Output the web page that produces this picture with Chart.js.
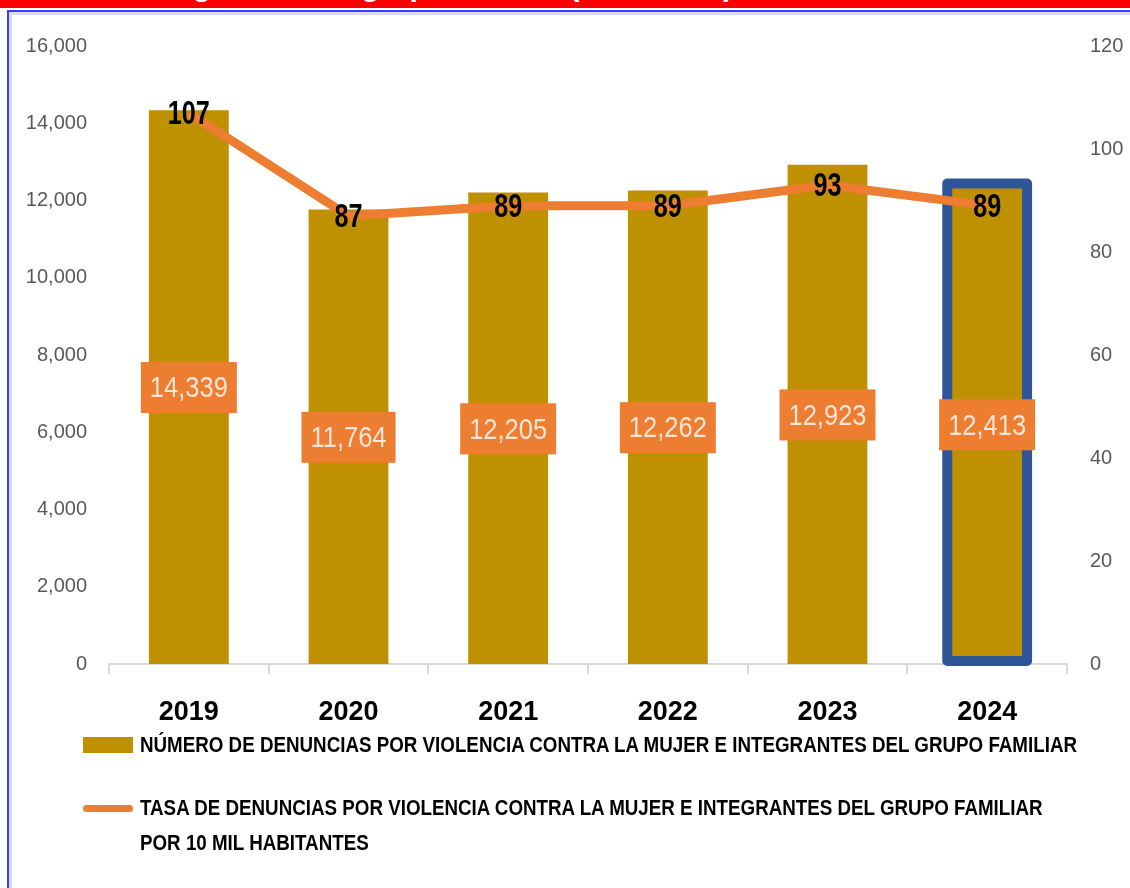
<!DOCTYPE html>
<html>
<head>
<meta charset="utf-8">
<script src="https://cdn.jsdelivr.net/npm/chart.js@4"></script>
<style>
  html, body { margin: 0; padding: 0; background: #fff; }
  #wrap { position: relative; width: 1130px; height: 888px; overflow: hidden; }
  #titulo { position: absolute; left: 0; top: 0; width: 1130px; height: 8px; background: #ff0000; overflow: hidden; }
  #titulo span { position: absolute; left: -25px; top: -29px; font: bold 30px "Liberation Sans", sans-serif; line-height: 1; color: #fff; white-space: nowrap; }
  #marco { position: absolute; left: 7px; top: 10px; width: 1130px; height: 900px; border-left: 2px solid #3c3cff; border-top: 2px solid #3c3cff; box-shadow: inset 3px 3px 0 #dcdce6; }
  canvas { position: absolute; left: 0; top: 0; }
  .ley { position: absolute; left: 140px; font: bold 22px "Liberation Sans", sans-serif; color: #000; white-space: nowrap; line-height: 1; transform-origin: 0 0; }
  .cuadro { position: absolute; left: 83px; top: 737px; width: 50px; height: 16px; background: #bf9000; }
  .raya { position: absolute; left: 83px; top: 805px; width: 50px; height: 7px; border-radius: 4px; background: #ed7d31; }
</style>
</head>
<body>
<div id="wrap">
  <div id="titulo"><span>Violencia a integrantes del grupo familiar (2019-2024)</span></div>
  <div id="marco"></div>
  <canvas id="grafico" width="1130" height="888"></canvas>
  <div class="cuadro"></div>
  <div class="ley" id="ley1" style="top:734px;">NÚMERO DE DENUNCIAS POR VIOLENCIA CONTRA LA MUJER E INTEGRANTES DEL GRUPO FAMILIAR</div>
  <div class="raya"></div>
  <div class="ley" style="top:797px;">TASA DE DENUNCIAS POR VIOLENCIA CONTRA LA MUJER E INTEGRANTES DEL GRUPO FAMILIAR</div>
  <div class="ley" style="top:832px;">POR 10 MIL HABITANTES</div>
</div>
<script>
// datos del grafico
const anios = ["2019", "2020", "2021", "2022", "2023", "2024"];
const denuncias = [14339, 11764, 12205, 12262, 12923, 12413]; // numero de denuncias
const tasa = [107, 87, 89, 89, 93, 89];                        // por 10 mil habitantes
const ejeIzq = { min: 0, max: 16000, paso: 2000 };
const ejeDer = { min: 0, max: 120, paso: 20 };
const anioResaltado = "2024";

const naranja = "#ed7d31";
const dorado = "#bf9000";
const azul = "#2f5597";
const fuente = '"Liberation Sans", sans-serif';

// la leyenda es angosta en el original: se comprime en horizontal
const anchoLeyenda = 937;
const ley1 = document.getElementById("ley1");
const escala = anchoLeyenda / ley1.getBoundingClientRect().width;
document.querySelectorAll(".ley").forEach(function (d) {
    d.style.transform = "scaleX(" + escala + ")";
});

// texto comprimido en el canvas
function textoAngosto(ctx, txt, x, y, sx) {
    ctx.save();
    ctx.translate(x, y);
    ctx.scale(sx, 1);
    ctx.fillText(txt, 0, 0);
    ctx.restore();
}

// etiquetas de datos + recuadro azul del ultimo anio
const etiquetas = {
    id: "etiquetas",
    afterDatasetDraw(chart, args) {
        if (args.index !== 0) return;
        const ctx = chart.ctx;
        const i = anios.indexOf(anioResaltado);
        const el = args.meta.data[i];
        ctx.save();
        ctx.strokeStyle = azul;
        ctx.lineWidth = 10;
        ctx.lineJoin = "round";
        const w = el.width / 2;
        ctx.strokeRect(el.x - w, el.y - 1, w * 2, el.base - el.y - 2);
        ctx.restore();
    },
    afterDatasetsDraw(chart) {
        const ctx = chart.ctx;
        ctx.save();
        ctx.textAlign = "center";
        ctx.textBaseline = "middle";
        // cajas naranjas en las barras
        const barras = chart.getDatasetMeta(0).data;
        ctx.font = "30px " + fuente;
        barras.forEach(function (el, i) {
            const txt = denuncias[i].toLocaleString("en-US");
            const cy = (el.y + el.base) / 2;
            const tw = ctx.measureText(txt).width * 0.85 + 18;
            ctx.fillStyle = naranja;
            ctx.fillRect(el.x - tw / 2, cy - 25, tw, 51);
            ctx.fillStyle = "#fbe5d6";
            textoAngosto(ctx, txt, el.x, cy + 2, 0.85);
        });
        // valores de la linea
        const puntos = chart.getDatasetMeta(1).data;
        ctx.font = "bold 34px " + fuente;
        ctx.fillStyle = "#000";
        puntos.forEach(function (p, i) {
            textoAngosto(ctx, String(tasa[i]), p.x, p.y + 2, 0.74);
        });
        ctx.restore();
    }
};

new Chart(document.getElementById("grafico"), {
    type: "bar",
    data: {
        labels: anios,
        datasets: [
            {
                label: "NÚMERO DE DENUNCIAS POR VIOLENCIA CONTRA LA MUJER E INTEGRANTES DEL GRUPO FAMILIAR",
                data: denuncias,
                backgroundColor: dorado,
                barPercentage: 0.5,
                categoryPercentage: 1,
                yAxisID: "y",
                order: 1
            },
            {
                type: "line",
                label: "TASA DE DENUNCIAS POR VIOLENCIA CONTRA LA MUJER E INTEGRANTES DEL GRUPO FAMILIAR POR 10 MIL HABITANTES",
                data: tasa,
                borderColor: naranja,
                borderWidth: 9,
                pointRadius: 0,
                tension: 0,
                yAxisID: "y1",
                order: 0
            }
        ]
    },
    options: {
        responsive: false,
        animation: false,
        layout: { padding: { top: 46, left: 0, right: 0, bottom: 0 } },
        plugins: { legend: { display: false }, tooltip: { enabled: false } },
        scales: {
            x: {
                afterFit: function (s) { s.height = 224; },
                grid: { display: true, drawOnChartArea: false, drawTicks: true, tickLength: 10, color: "#d9d9d9", lineWidth: 2 },
                border: { display: true, color: "#d9d9d9", width: 2 },
                ticks: { color: "#000", padding: 22, font: { family: fuente, size: 27, weight: "bold" } }
            },
            y: {
                position: "left",
                min: ejeIzq.min, max: ejeIzq.max,
                afterFit: function (s) { s.width = 109; },
                grid: { display: false, drawTicks: false },
                border: { display: false },
                ticks: {
                    stepSize: ejeIzq.paso, padding: 22, color: "#595959",
                    font: { family: fuente, size: 20 },
                    callback: function (v) { return v.toLocaleString("en-US"); }
                }
            },
            y1: {
                position: "right",
                min: ejeDer.min, max: ejeDer.max,
                afterFit: function (s) { s.width = 63; },
                grid: { display: false, drawTicks: false },
                border: { display: false },
                ticks: {
                    stepSize: ejeDer.paso, padding: 23, color: "#595959",
                    font: { family: fuente, size: 20 }
                }
            }
        }
    },
    plugins: [etiquetas]
});
</script>
</body>
</html>
